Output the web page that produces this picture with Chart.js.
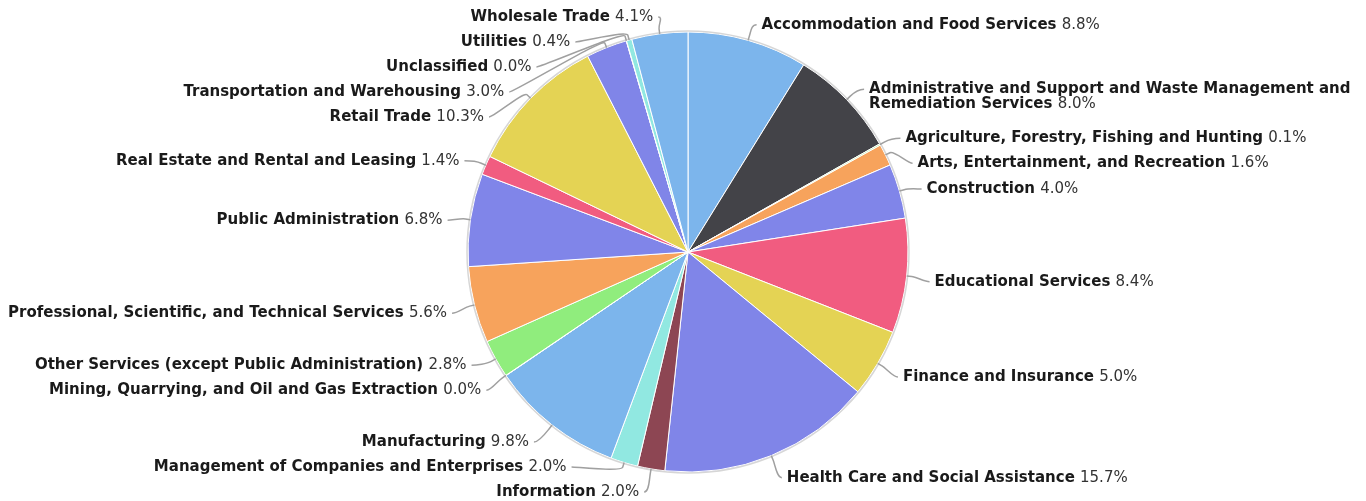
<!DOCTYPE html>
<html>
<head>
<meta charset="utf-8">
<script src="https://cdn.jsdelivr.net/npm/chart.js@4.4.1/dist/chart.umd.min.js"></script>
<style>
  html, body { margin: 0; padding: 0; background: #fff; }
</style>
</head>
<body>
<canvas id="industryPie" width="1366" height="501"></canvas>
<script>
// Sectores y su participación (%)
const industries = [
    'Accommodation and Food Services',
    'Administrative and Support and Waste Management and Remediation Services',
    'Agriculture, Forestry, Fishing and Hunting',
    'Arts, Entertainment, and Recreation',
    'Construction',
    'Educational Services',
    'Finance and Insurance',
    'Health Care and Social Assistance',
    'Information',
    'Management of Companies and Enterprises',
    'Manufacturing',
    'Mining, Quarrying, and Oil and Gas Extraction',
    'Other Services (except Public Administration)',
    'Professional, Scientific, and Technical Services',
    'Public Administration',
    'Real Estate and Rental and Leasing',
    'Retail Trade',
    'Transportation and Warehousing',
    'Unclassified',
    'Utilities',
    'Wholesale Trade'
];
const shares = [8.8, 8.0, 0.1, 1.6, 4.0, 8.4, 5.0, 15.7, 2.0, 2.0, 9.8, 0.02, 2.8, 5.6, 6.8, 1.4, 10.3, 3.0, 0.02, 0.4, 4.1];
const palette = ['#7cb5ec', '#434348', '#90ed7d', '#f7a35c', '#8085e9', '#f15c80', '#e4d354', '#8085e8', '#8d4653', '#91e8e1'];

const FONT_BOLD = 'bold 15px "DejaVu Sans"';
const FONT_REG = '15px "DejaVu Sans"';

// Etiquetas externas con conectores (estilo Highcharts)
const pieLabels = {
    id: 'pieLabels',
    afterDatasetsDraw(chart) {
        const ctx = chart.ctx;
        const arcs = chart.getDatasetMeta(0).data;
        const values = chart.data.datasets[0].data;
        const total = values.reduce((a, b) => a + b, 0);
        const cx = arcs[0].x, cy = arcs[0].y, r = arcs[0].outerRadius;

        ctx.save();
        // borde gris exterior
        ctx.beginPath();
        ctx.arc(cx, cy, r + 1, 0, Math.PI * 2);
        ctx.strokeStyle = 'rgba(0,0,0,0.16)';
        ctx.lineWidth = 1.5;
        ctx.stroke();

        const dist = 20, yShift = 3.5, lineGap = 25, wrapLH = 15;
        const R = r + dist;
        const top = cy - r - 15, bottom = cy + r + 20;
        const getX = (y, side) => {
            const dy = y - cy - yShift;
            return cx + side * Math.sqrt(Math.max(R * R - dy * dy, 0));
        };
        const tokWidth = t => { ctx.font = t.b ? FONT_BOLD : FONT_REG; return ctx.measureText(t.t).width; };
        const spaceW = t => { ctx.font = t.b ? FONT_BOLD : FONT_REG; return ctx.measureText(' ').width; };
        const lineWidth = line => line.reduce((w, t, k) => w + tokWidth(t) + (k ? spaceW(line[k - 1]) : 0), 0);

        const items = arcs.map((arc, i) => {
            const mid = (arc.startAngle + arc.endAngle) / 2;
            const side = Math.cos(mid) >= 0 ? 1 : -1;
            const target = cy + yShift + Math.sin(mid) * R;
            const pct = (values[i] / total * 100).toFixed(1) + '%';
            const tokens = industries[i].split(' ').map(w => ({ t: w, b: true })).concat([{ t: pct, b: false }]);
            const xNat = getX(target, side) + side * 8;
            const maxW = side > 0 ? chart.width - xNat - 4 : xNat - 4;
            const lines = [];
            let cur = [];
            tokens.forEach(t => {
                const trial = cur.concat([t]);
                if (cur.length && lineWidth(trial) > maxW) { lines.push(cur); cur = [t]; } else { cur = trial; }
            });
            lines.push(cur);
            return { i, mid, side, target, lines };
        });

        const gap = o => lineGap + wrapLH * (o.lines.length - 1);
        function spread(list, pushDown) {
            const n = list.length;
            const p = list.map(o => o.target);
            const down = () => { for (let k = 0; k < n; k++) p[k] = Math.max(p[k], k ? p[k - 1] + gap(list[k - 1]) : top); };
            const up = () => { for (let k = n - 1; k >= 0; k--) p[k] = Math.min(p[k], k < n - 1 ? p[k + 1] - gap(list[k]) : bottom - wrapLH * (list[k].lines.length - 1)); };
            if (pushDown) { down(); up(); } else { up(); down(); }
            list.forEach((o, k) => { o.y = p[k]; });
        }
        spread(items.filter(o => o.side > 0), true);
        spread(items.filter(o => o.side < 0).reverse(), false);

        items.forEach(o => {
            const cosA = Math.cos(o.mid), sinA = Math.sin(o.mid);
            const tx = cx + cosA * r, ty = cy + sinA * r;
            const bx = cx + cosA * (r + 5), by = cy + sinA * (r + 5);
            const edge = getX(o.y, o.side);
            const lx = edge + o.side * 3, ly = o.y;

            ctx.beginPath();
            ctx.moveTo(lx, ly);
            ctx.bezierCurveTo(lx - o.side * 5, ly, 2 * bx - tx, 2 * by - ty, bx, by);
            ctx.lineTo(tx, ty);
            ctx.strokeStyle = '#a0a0a0';
            ctx.lineWidth = 1.5;
            ctx.stroke();

            ctx.textBaseline = 'middle';
            ctx.textAlign = 'left';
            o.lines.forEach((line, k) => {
                const w = lineWidth(line);
                let x = o.side > 0 ? edge + 8 : edge - 8 - w;
                const y = o.y + k * wrapLH;
                line.forEach((t, j) => {
                    ctx.font = t.b ? FONT_BOLD : FONT_REG;
                    ctx.fillStyle = t.b ? '#1a1a1a' : '#333333';
                    ctx.fillText(t.t, x, y);
                    x += ctx.measureText(t.t).width + (j < line.length - 1 ? ctx.measureText(' ').width : 0);
                });
            });
        });
        ctx.restore();
    }
};

new Chart(document.getElementById('industryPie'), {
    type: 'pie',
    data: {
        labels: industries,
        datasets: [{
            data: shares,
            backgroundColor: industries.map((_, i) => palette[i % palette.length]),
            borderColor: '#ffffff',
            borderWidth: 1
        }]
    },
    options: {
        responsive: false,
        animation: false,
        radius: 220,
        layout: { padding: { left: 10, right: 0, top: 3, bottom: 0 } },
        plugins: {
            legend: { display: false },
            tooltip: {
                callbacks: {
                    label: c => ' ' + (c.parsed / shares.reduce((a, b) => a + b, 0) * 100).toFixed(1) + '%'
                }
            }
        }
    },
    plugins: [pieLabels]
});
</script>
</body>
</html>
